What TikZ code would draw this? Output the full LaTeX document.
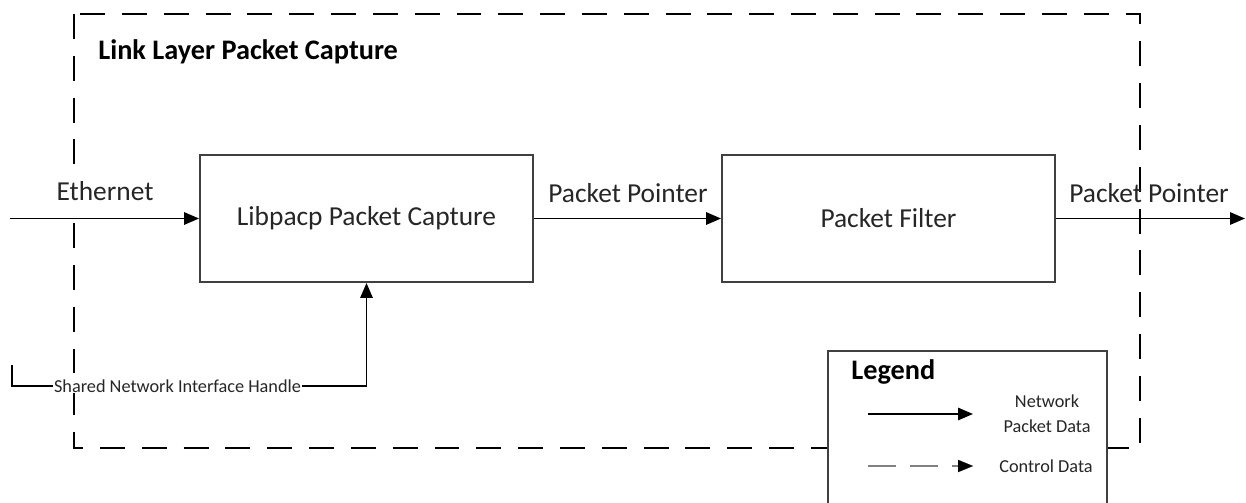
\documentclass[tikz,border=0pt]{standalone}
\usepackage{fontspec}
\setmainfont{Carlito}
\usetikzlibrary{arrows.meta}
\definecolor{boxline}{HTML}{404040}
\definecolor{legdash}{HTML}{808080}
\definecolor{txt}{HTML}{262626}
\begin{document}
\begin{tikzpicture}[x=0.02cm,y=-0.02cm,
  big/.style={font=\fontsize{15.6}{18}\selectfont, text=txt},
  bigbold/.style={font=\fontsize{16.1}{18}\selectfont\bfseries, text=black},
  small/.style={font=\fontsize{10.4}{12.5}\selectfont, text=txt},
  procbox/.style={draw=boxline, line width=1.1pt, minimum width=6.66cm, minimum height=2.54cm, inner sep=0pt, big},
  dataflow/.style={line width=1.1pt, draw=black, -{Triangle[length=8.5pt,width=7pt]}},
  ctrlframe/.style={line width=1.1pt, draw=black, dash pattern=on 14.2pt off 9.6pt},
  legctrl/.style={line width=1.1pt, draw=legdash, dash pattern=on 16pt off 8pt, -{Triangle[length=8.5pt,width=7pt,color=black,fill=black,line width=0.1pt]}}
]
\useasboundingbox (0,0) rectangle (1246,503);
\fill[white] (0,0) rectangle (1246,503);

% control frame
\draw[ctrlframe] (74,14) rectangle (1140,448);
\node[bigbold, anchor=west, inner sep=0pt] (title) at (98,52) {Link Layer Packet Capture};

% labels drawn before connectors
\node[big, fill=white, inner xsep=1pt, inner ysep=0pt, minimum height=0.9cm] (lblEth) at (105,191) {Ethernet};
\node[big] (lblPP1) at (628,193) {Packet Pointer};
\node[big] (lblPP2) at (1149,193) {Packet Pointer};

% process boxes
\node[procbox] (cap) at (366.5,218.5) {Libpacp Packet Capture};
\node[procbox] (filt) at (888.5,218.5) {Packet Filter};

% connectors
\coordinate (ethin) at (10,218.5);
\coordinate (pout) at (1245,218.5);
\draw[dataflow] (ethin) -- (cap.west);
\draw[dataflow] (cap.east) -- (filt.west);
\draw[dataflow] (filt.east) -- (pout);

% shared handle
\coordinate (hstart) at (12,365);
\coordinate (hcorner) at (12,386);
\draw[dataflow] (hstart) -- (hcorner) -- (cap.south |- hcorner) -- (cap.south);
\node[small, fill=white, inner sep=0.5pt] (lblHandle) at (177.5,386) {Shared Network Interface Handle};

% legend
\fill[white] (828,351) rectangle (1107,503);
\draw[draw=boxline, line width=1.1pt] (828,503) -- (828,351) -- (1107,351) -- (1107,503);
\node[bigbold, anchor=west, inner sep=0pt] (legtitle) at (851,372) {Legend};
\coordinate (l1a) at (868,414);
\coordinate (l1b) at (973,414);
\coordinate (l2a) at (868,466);
\coordinate (l2b) at (973,466);
\draw[dataflow] (l1a) -- (l1b);
\draw[legctrl] (l2a) -- (l2b);
\node[small, align=center, inner sep=0pt] (legnet) at (1047,413.5) {Network\\[1.5pt]Packet Data};
\node[small, inner sep=0pt] (legctl) at (1046,466) {Control Data};
\end{tikzpicture}
\end{document}
